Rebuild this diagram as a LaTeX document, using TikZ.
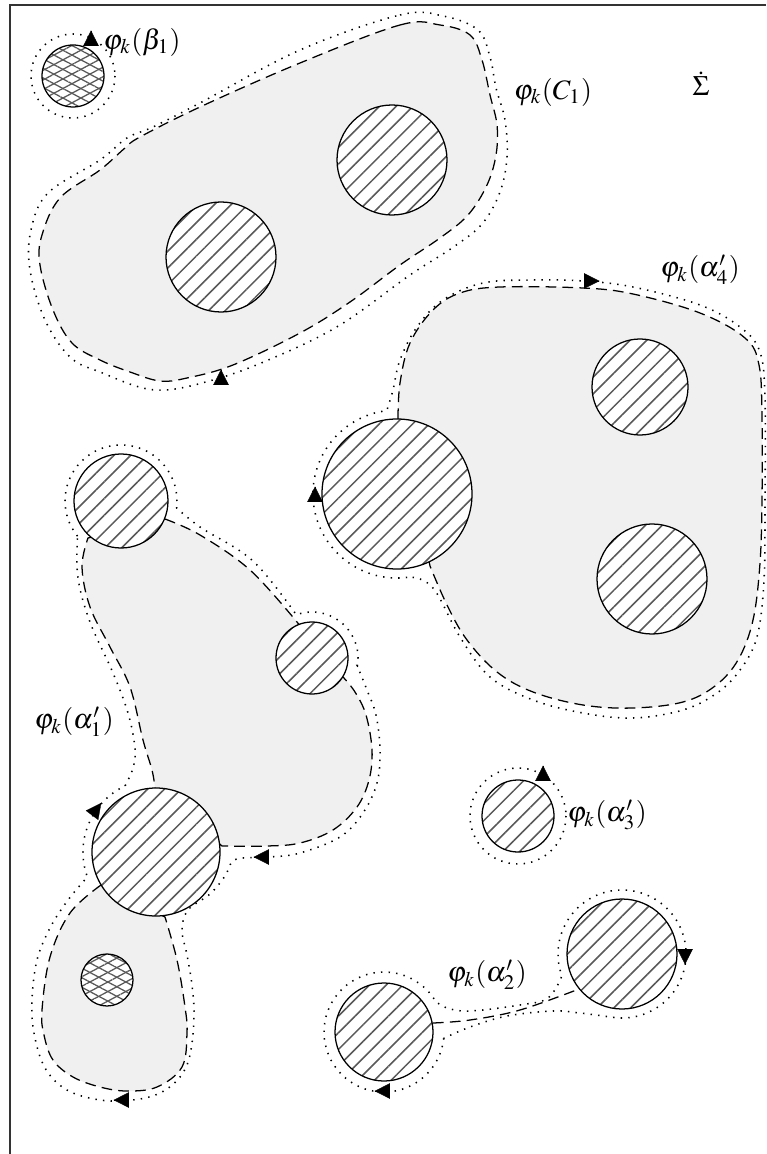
\documentclass[tikz,border=0pt]{standalone}
\usepackage{mathptmx}
\usetikzlibrary{arrows.meta,patterns.meta}
\tikzset{
  region/.style={fill=gray!12},
  curvedash/.style={line width=.45pt,dash pattern=on 3.8pt off 2.2pt},
  curvedot/.style={line width=.55pt,dash pattern=on .5pt off 2.2pt},
  hatchdisc/.style={draw,line width=.45pt,preaction={fill=white},
    pattern={Lines[angle=45,distance=4.2pt,line width=.55pt]},pattern color=black!65},
  crossdisc/.style={draw,line width=.45pt,preaction={fill=white},
    preaction={pattern={Lines[angle=28,distance=3pt,line width=.45pt]},pattern color=black!65},
    pattern={Lines[angle=-28,distance=3pt,line width=.45pt]},pattern color=black!65},
  tipmark/.style={-{Triangle[length=5.5pt,width=5.5pt]},line width=.1pt},
  frameline/.style={line width=.5pt,black!80}
}
\begin{document}
\begin{tikzpicture}[x=0.0125cm,y=-0.0125cm]
  \useasboundingbox (0,0) rectangle (766,1154);
  \draw[frameline] (10,1154) -- (10,5) -- (766,5);

  % disc centres
  \coordinate (b1) at (73,76);
  \coordinate (c1a) at (221,257); \coordinate (c1b) at (392,160);
  \coordinate (a4a) at (397,494); \coordinate (a4b) at (640,387); \coordinate (a4c) at (652,579);
  \coordinate (a1a) at (121,501); \coordinate (a1b) at (312,658); \coordinate (a1c) at (156,852);
  \coordinate (a1d) at (107,980);
  \coordinate (a3) at (518,816);
  \coordinate (a2a) at (384,1032); \coordinate (a2b) at (622,954);

  % region C_1
  \draw[region,curvedash] plot[smooth cycle,tension=.6] coordinates {(300,63) (400,25) (440,25) (470,35)
    (482,60) (490,95) (497,125) (496,155) (487,185) (468,215) (440,238) (400,265) (350,302) (300,333)
    (233,365) (187,378) (160,381) (130,372) (100,360) (72,343) (53,310) (40,265) (42,235) (60,198)
    (100,170) (125,148) (140,137) (200,107)};
  \draw[curvedot] plot[smooth cycle,tension=.6] coordinates {(300,50) (400,15) (443,16) (478,30)
    (490,57) (496,88) (505,120) (507,157) (500,192) (482,224) (452,248) (410,275) (340,325) (273,358)
    (213,380) (155,390) (100,372) (70,357) (45,320) (30,270) (31,230) (48,193) (100,160) (127,138)
    (153,127) (200,103)};

  % region alpha'_4
  \path[region,draw,curvedash] plot[smooth,tension=.6] coordinates {(398,419) (400,383) (410,343)
    (433,310) (460,293) (500,287) (583,288) (633,294) (700,313) (745,338) (759,365) (762,417)
    (762,497) (760,563) (753,620) (738,660) (715,686) (683,702) (633,708) (583,705) (533,692)
    (497,672) (467,640) (447,605) (430,566)} -- cycle;
  \draw[curvedot] (407.2,577.4) arc[start angle=83,end angle=263,radius=84]
    -- plot[smooth,tension=.6] coordinates {(386.8,410.6) (393,390) (400,360) (417,327) (443,300)
    (483,283) (533,280) (583,281) (633,287) (700,305) (740,327) (760,352) (765,400) (765,500)
    (764,580) (757,637) (740,670) (717,693) (683,710) (633,718) (583,713) (533,700) (490,677)
    (460,637) (436,592) (420,579) (407.2,577.4)};

  % region alpha'_1
  \path[region,draw,curvedash] plot[smooth,tension=.6] coordinates {(165,519) (200,535) (250,570) (297,622)}
    -- plot[smooth,tension=.6] coordinates {(343,677) (355,692) (366,715) (372,750) (369,780)
    (357,807) (333,830) (300,843) (267,846) (222,846)}
    -- plot[smooth,tension=.6] coordinates {(155,788) (152,770) (143,740) (130,687) (110,647)
    (90,607) (82,567) (88,538)} -- cycle;
  \path[region,draw,curvedash] plot[smooth,tension=.6] coordinates {(101,885) (70,913) (50,957)
    (42,1010) (44,1035) (53,1060) (73,1077) (100,1087) (127,1091) (157,1087) (182,1067) (187,1033)
    (185,1007) (177,960) (165,917)} -- cycle;
  \draw[curvedot] (77.5,536.2) arc[start angle=141,end angle=367,radius=56]
    -- plot[smooth,tension=.6] coordinates {(176.6,507.8) (200,527) (253,561) (296.3,614.8)}
    arc[start angle=250,end angle=370,radius=46]
    -- plot[smooth,tension=.6] coordinates {(357.3,666) (367,690) (376,715) (380,750) (377,783)
    (363,813) (340,837) (300,853) (270,857) (243,858) (232,862) (225,876) (210,894)
    (188,910) (182,930) (187,955) (192,985) (194,1017) (190,1055) (180,1077) (160,1093) (133,1100)
    (100,1100) (67,1090) (45,1068) (34,1033) (32,1000) (37,960) (50,928) (68,900) (87.4,877)}
    arc[start angle=160,end angle=245,radius=73]
    -- plot[smooth,tension=.6] coordinates {(125.1,785.8) (133,768) (135,748) (128,713) (113,673)
    (90,622) (78,578) (77.5,536.2)};

  % band alpha'_2
  \draw[curvedash] plot[smooth,tension=.6] coordinates {(433,1023) (470,1020) (520,1010) (579,989)};
  \draw[curvedot] (443.7,1038.3) arc[start angle=6,end angle=329,radius=60]
    -- plot[smooth,tension=.6] coordinates {(435.4,1001.1) (447,1008) (470,1011) (520,1005)
    (548,998) (561.9,975.9)}
    arc[start angle=160,end angle=458,radius=64]
    -- plot[smooth,tension=.6] coordinates {(613.1,1017.4) (580,1013) (553,1011) (507,1016)
    (470,1027) (443.7,1038.3)};

  % single rings
  \draw[curvedot] (b1) circle[radius=42];
  \draw[curvedot] (a3) circle[radius=48];

  % discs
  \foreach \c/\r in {c1a/55,c1b/55,a4a/75,a4b/48,a4c/55,a1a/47,a1b/36,a1c/64,a3/36,a2a/49,a2b/55}
    \draw[hatchdisc] (\c) circle[radius=\r];
  \draw[crossdisc] (b1) circle[radius=31];
  \draw[crossdisc] (a1d) circle[radius=26];

  % orientation marks
  \draw[tipmark] (91,31) -- +(0,-0.5);
  \draw[tipmark] (599,281) -- +(0.5,0);
  \draw[tipmark] (221,370) -- +(0,-0.5);
  \draw[tipmark] (315,487) -- +(0,-0.5);
  \draw[tipmark] (101,803.3) -- +(0.3,-0.4);
  \draw[tipmark] (254,857) -- +(-0.5,0);
  \draw[tipmark] (114,1100) -- +(-0.5,0);
  \draw[tipmark] (543,766) -- +(0,-0.5);
  \draw[tipmark] (685,964) -- +(0,0.5);
  \draw[tipmark] (375,1091) -- +(-0.5,0);

  % labels
  \node (lbeta) at (142,42) {$\varphi_k(\beta_1)$};
  \node (lcone) at (553,92) {$\varphi_k(C_1)$};
  \node (lsigma) at (701,84) {$\dot{\Sigma}$};
  \node (lafour) at (700,270) {$\varphi_k(\alpha'_4)$};
  \node (laone) at (74,722) {$\varphi_k(\alpha'_1)$};
  \node (lathree) at (607,815) {$\varphi_k(\alpha'_3)$};
  \node (latwo) at (487,975) {$\varphi_k(\alpha'_2)$};
\end{tikzpicture}
\end{document}
